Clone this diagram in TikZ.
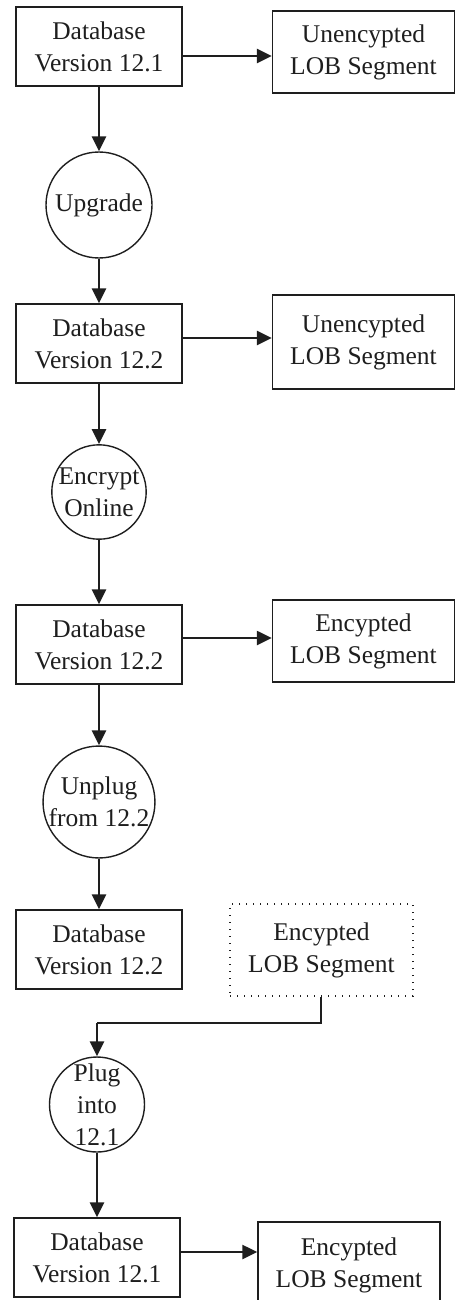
\documentclass[tikz,border=0pt]{standalone}
\usepackage{fontspec}
\setmainfont{Liberation Serif}
\usetikzlibrary{arrows.meta}
\definecolor{ink}{HTML}{1E1E1E}
\begin{document}
\begin{tikzpicture}[x=1pt,y=-1pt,
  every node/.style={font=\fontsize{25.5}{32}\selectfont, text=ink, align=center, inner sep=0pt},
  dbbox/.style={draw=ink, line width=1.5pt, minimum width=166pt, minimum height=79pt},
  segbox/.style={draw=ink, line width=1.5pt, minimum width=182pt, minimum height=82pt},
  dotbox/.style={draw=ink, line width=1.2pt, dash pattern=on 1.2pt off 5.8pt, minimum width=183pt, minimum height=92pt},
  proc/.style={draw=ink, line width=1.4pt, circle},
  arr/.style={draw=ink, line width=2.6pt, -{Triangle[length=15pt,width=14pt]}},
  ln/.style={draw=ink, line width=2.6pt}]
\useasboundingbox (0,0) rectangle (455,1300);
% nodes
\node[dbbox] (b1) at (99,46.5) {Database\\Version 12.1};
\node[segbox] (r1) at (363.5,52) {Unencypted\\LOB Segment};
\node[proc, minimum size=106pt] (c1) at (99,205) {Upgrade};
\node[dbbox] (b2) at (99,343.5) {Database\\Version 12.2};
\node[segbox, minimum height=94pt] (r2) at (363.5,342) {Unencypted\\LOB Segment};
\node[proc, minimum size=94pt] (c2) at (99,492) {Encrypt\\Online};
\node[dbbox] (b3) at (99,644.5) {Database\\Version 12.2};
\node[segbox] (r3) at (363.5,641) {Encypted\\LOB Segment};
\node[proc, minimum size=110pt] (c3) at (99,802) {Unplug\\from 12.2};
\node[dbbox] (b4) at (99,949.5) {Database\\Version 12.2};
\node[dotbox] (d1) at (321.5,950) {Encypted\\LOB Segment};
\node[proc, minimum size=95pt] (c4) at (97,1104.5) {Plug\\into\\12.1};
\node[dbbox] (b5) at (97,1257.5) {Database\\Version 12.1};
\node[segbox, minimum height=86pt] (r5) at (349,1265) {Encypted\\LOB Segment};
\coordinate (k1) at (321,1023);
\coordinate (k2) at (97,1023);
% connectors
\draw[arr] (b1.east |- 0,56) -- (r1.west |- 0,56);
\draw[arr] (b1) -- (c1);
\draw[arr] (c1) -- (b2);
\draw[arr] (b2.east |- 0,338) -- (r2.west |- 0,338);
\draw[arr] (b2) -- (c2);
\draw[arr] (c2) -- (b3);
\draw[arr] (b3.east |- 0,638) -- (r3.west |- 0,638);
\draw[arr] (b3) -- (c3);
\draw[arr] (c3) -- (b4);
\draw[ln] (d1.south -| k1) -- (k1) -- (k2);
\draw[arr] (k2) -- (c4);
\draw[arr] (c4) -- (b5);
\draw[arr] (b5.east |- 0,1252) -- (r5.west |- 0,1252);
\end{tikzpicture}
\end{document}
